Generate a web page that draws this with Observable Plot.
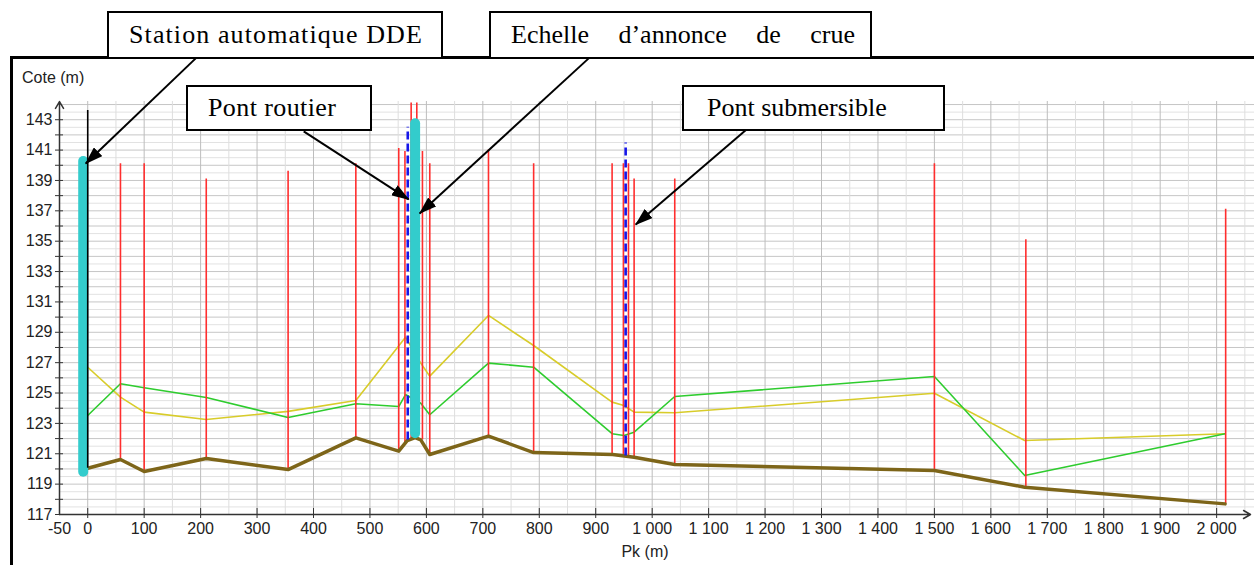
<!DOCTYPE html>
<html>
<head>
<meta charset="utf-8">
<script src="https://cdn.jsdelivr.net/npm/d3@7"></script>
<script src="https://cdn.jsdelivr.net/npm/@observablehq/plot@0.6"></script>
<style>
  body { margin: 0; background: #fff; }
  #wrap { position: relative; width: 1254px; height: 565px; overflow: hidden; background: #fff; }
  #wrap svg { position: absolute; left: 0; top: 0; z-index: 1; }
  .frame { position: absolute; background: #000; z-index: 0; }
  .box { position: absolute; z-index: 2; box-sizing: border-box; border: 2px solid #000; background: #fff;
         font-family: "Liberation Serif", "Times New Roman", serif; font-size: 26px; color: #000;
         display: flex; align-items: center; white-space: nowrap; }
  .lbl { position: absolute; z-index: 2; font-family: "Liberation Sans", Arial, sans-serif; color: #222; white-space: nowrap; }
</style>
</head>
<body>
<div id="wrap"></div>
<script>
// ---- Data ----
// Bed (thalweg) profile
const pkBed  = [0, 58, 100, 210, 355, 475, 551, 566, 580, 590, 606, 710, 790, 930, 968, 1040, 1500, 1660, 2015];
const zBed   = [120.05, 120.62, 119.83, 120.69, 119.96, 122.05, 121.17, 121.87, 122.07, 121.92, 120.95, 122.16, 121.08, 120.95, 120.77, 120.29, 119.9, 118.8, 117.7];
// Green water line
const pkGreen = [0, 58, 100, 210, 355, 475, 551, 563, 590, 606, 710, 790, 929, 950, 968, 1040, 1500, 1660, 2015];
const zGreen  = [123.52, 125.61, 125.35, 124.71, 123.39, 124.29, 124.11, 124.9, 124.33, 123.57, 126.97, 126.7, 122.32, 122.2, 122.42, 124.77, 126.09, 119.57, 122.32];
// Yellow water line
const pkYellow = [0, 58, 100, 210, 355, 475, 563, 590, 606, 710, 790, 929, 950, 968, 1040, 1500, 1660, 2015];
const zYellow  = [126.7, 124.73, 123.74, 123.26, 123.79, 124.51, 128.68, 126.97, 126.11, 130.11, 128.13, 124.4, 124.18, 123.74, 123.7, 124.99, 121.87, 122.32];
// Cross sections (red verticals)
const pkSection     = [58, 100, 210, 355, 475, 551, 562, 573, 583, 593, 606, 710, 790, 929, 949, 958, 968, 1040, 1500, 1662, 2016];
const zSectionTop   = [140.1, 140.1, 139.1, 139.6, 140.1, 141.1, 140.9, 144.1, 144.1, 140.9, 140.1, 141.0, 140.1, 140.1, 140.1, 140.1, 139.1, 139.1, 140.1, 135.1, 137.1];
const zSectionBase  = [120.62, 119.83, 120.69, 119.96, 122.05, 121.17, 121.7, 122.0, 122.05, 121.9, 120.95, 122.16, 121.08, 120.95, 120.85, 120.8, 120.77, 120.29, 119.9, 118.8, 117.7];
// Bridges (blue dashed)
const pkBridge    = [567, 953];
const zBridgeTop  = [142.5, 141.46];
const zBridgeBase = [121.9, 120.85];
// Gauges (cyan bars)
const pkGauge    = [-8, 580];
const zGaugeTop  = [140.25, 142.74];
const zGaugeBase = [119.79, 122.32];
// Black marker at Pk 0
const pkMarker = [0];
const zMarkerTop = [143.6];
const zMarkerBase = [120.05];
// Tick labels
const xTicks = [-50, 0, 100, 200, 300, 400, 500, 600, 700, 800, 900, 1000, 1100, 1200, 1300, 1400, 1500, 1600, 1700, 1800, 1900, 2000];
const yTicks = [117, 119, 121, 123, 125, 127, 129, 131, 133, 135, 137, 139, 141, 143];
// Annotations: text and arrow (from box -> target), in data units
const annText = ["Station automatique DDE", "Echelle d’annonce de crue", "Pont routier", "Pont submersible"];
const annFromPk = [191.3, 887.5, 382.6, 1165.6];
const annFromZ  = [147.04, 147.04, 142.23, 142.3];
const annToPk   = [-3.5, 588.1, 568.6, 970.8];
const annToZ    = [140.12, 136.83, 137.75, 136.1];

// ---- Build tables ----
const bed = pkBed.map((x, i) => ({x, y: zBed[i]}));
const green = pkGreen.map((x, i) => ({x, y: zGreen[i]}));
const yellow = pkYellow.map((x, i) => ({x, y: zYellow[i]}));
const sections = pkSection.map((x, i) => ({x, y1: zSectionBase[i], y2: zSectionTop[i]}));
const bridges = pkBridge.map((x, i) => ({x, y1: zBridgeBase[i], y2: zBridgeTop[i]}));
const gauges = pkGauge.map((x, i) => ({x, y1: zGaugeBase[i], y2: zGaugeTop[i]}));
const markers = pkMarker.map((x, i) => ({x, y1: zMarkerBase[i], y2: zMarkerTop[i]}));
const arrows = annText.map((t, i) => ({x1: annFromPk[i], y1: annFromZ[i], x2: annToPk[i], y2: annToZ[i]}));

const xDomain = [-50, 2060];
const yDomain = [117, 144.2];

const loc = d3.formatLocale({decimal: ",", thousands: "\u00a0", grouping: [3], currency: ["", ""], minus: "-"});
const fmt = loc.format(",d");

const plot = Plot.plot({
  width: 1254,
  height: 565,
  marginLeft: 59,
  marginRight: 4,
  marginTop: 101,
  marginBottom: 51,
  x: {domain: xDomain, label: null},
  y: {domain: yDomain, label: null},
  style: {fontFamily: "'Liberation Sans', Arial, sans-serif", fontSize: "16px", background: "transparent", overflow: "visible"},
  marks: [
    // grid
    Plot.ruleY(d3.range(117.5, 144.2, 1), {x1: xDomain[0], x2: 2070, stroke: "#e2e2e2", strokeWidth: 1}),
    Plot.ruleY(d3.range(118, 144.2, 1), {x1: xDomain[0], x2: 2070, stroke: "#c6c6c6", strokeWidth: 1}),
    Plot.ruleX(d3.range(50, 2060, 100), {y1: yDomain[0], y2: yDomain[1], stroke: "#dedede", strokeWidth: 1}),
    Plot.ruleX(d3.range(0, 2060, 100), {y1: yDomain[0], y2: yDomain[1], stroke: "#bdbdbd", strokeWidth: 1}),
    // water lines
    Plot.line(yellow, {x: "x", y: "y", stroke: "#d8cc2a", strokeWidth: 1.6}),
    Plot.line(green, {x: "x", y: "y", stroke: "#2ecc2e", strokeWidth: 1.6}),
    // cross sections
    Plot.ruleX(sections, {x: "x", y1: "y1", y2: "y2", stroke: "#ff2e2e", strokeWidth: 1.6}),
    // bed
    Plot.line(bed, {x: "x", y: "y", stroke: "#7d6519", strokeWidth: 3.5}),
    // bridges
    Plot.ruleX(bridges, {x: "x", y1: "y1", y2: "y2", stroke: "#1616e8", strokeWidth: 2.6, strokeDasharray: "8,4"}),
    // gauges
    Plot.ruleX(gauges, {x: "x", y1: "y1", y2: "y2", stroke: "#33cccc", strokeWidth: 10, strokeLinecap: "round"}),
    Plot.ruleX(markers, {x: "x", y1: "y1", y2: "y2", stroke: "#000", strokeWidth: 1.6}),
    // axes
    Plot.arrow([{x1: xDomain[0], y1: yDomain[0], x2: xDomain[0], y2: yDomain[1]}, {x1: xDomain[0], y1: yDomain[0], x2: xDomain[1], y2: yDomain[0]}],
      {x1: "x1", y1: "y1", x2: "x2", y2: "y2", stroke: "#333", strokeWidth: 1.5, headLength: 8}),
    Plot.axisY({ticks: d3.range(117, 144, 1), tickSize: 8, dx: 4, tickFormat: () => "", stroke: "#333", label: null}),
    Plot.axisY({ticks: yTicks, tickSize: 0, tickPadding: 7, tickFormat: d => String(d), fill: "#222", fontSize: 16, label: null}),
    Plot.axisX({ticks: xTicks.filter(d => d >= 0), tickSize: 10, dy: -6, tickFormat: () => "", stroke: "#333", label: null}),
    Plot.axisX({ticks: xTicks, tickSize: 0, tickPadding: 8, tickFormat: fmt, fill: "#222", fontSize: 16, label: null}),
    // annotation arrows
    Plot.link(arrows, {x1: "x1", y1: "y1", x2: "x2", y2: "y2", stroke: "#000", strokeWidth: 2})
  ]
});

// filled arrowheads for annotation links
const ns = "http://www.w3.org/2000/svg";
const defs = document.createElementNS(ns, "defs");
const marker = document.createElementNS(ns, "marker");
marker.setAttribute("id", "ahead");
marker.setAttribute("viewBox", "0 0 18 12");
marker.setAttribute("refX", "17");
marker.setAttribute("refY", "6");
marker.setAttribute("markerWidth", "18");
marker.setAttribute("markerHeight", "12");
marker.setAttribute("markerUnits", "userSpaceOnUse");
marker.setAttribute("orient", "auto");
const mp = document.createElementNS(ns, "path");
mp.setAttribute("d", "M0,0L18,6L0,12Z");
mp.setAttribute("fill", "#000");
marker.appendChild(mp);
defs.appendChild(marker);
plot.insertBefore(defs, plot.firstChild);
plot.querySelectorAll('g[aria-label="link"] path').forEach(p => p.setAttribute("marker-end", "url(#ahead)"));

const wrap = document.getElementById("wrap");
// frame
const f1 = document.createElement("div"); f1.className = "frame";
Object.assign(f1.style, {left: "10px", top: "56px", width: "3px", height: "520px"});
const f2 = document.createElement("div"); f2.className = "frame";
Object.assign(f2.style, {left: "10px", top: "56px", width: "1250px", height: "2.5px"});
wrap.appendChild(f1); wrap.appendChild(f2);
wrap.appendChild(plot);

// annotation boxes (layout)
const boxes = [
  {left: 107, top: 11, width: 336, height: 48, pad: "0 0 0 20px", justify: false, ls: "1.1px"},
  {left: 489, top: 11, width: 383, height: 48, pad: "0 15px 0 20px", justify: true, ls: "0px"},
  {left: 186, top: 85, width: 186, height: 46, pad: "0 0 0 20px", justify: false, ls: "0.4px"},
  {left: 682, top: 85, width: 263, height: 46, pad: "0 0 0 23px", justify: false, ls: "0px"}
];
boxes.forEach((b, i) => {
  const d = document.createElement("div");
  d.className = "box";
  Object.assign(d.style, {left: b.left + "px", top: b.top + "px", width: b.width + "px", height: b.height + "px", padding: b.pad, letterSpacing: b.ls});
  if (b.justify) {
    d.style.justifyContent = "space-between";
    annText[i].split(" ").forEach(w => { const s = document.createElement("span"); s.textContent = w; d.appendChild(s); });
  } else {
    d.textContent = annText[i];
  }
  wrap.appendChild(d);
});

// axis titles
const yl = document.createElement("div"); yl.className = "lbl";
Object.assign(yl.style, {left: "22px", top: "70px", fontSize: "16px", lineHeight: "16px"});
yl.textContent = "Cote (m)";
wrap.appendChild(yl);
const xl = document.createElement("div"); xl.className = "lbl";
Object.assign(xl.style, {left: "545px", width: "200px", textAlign: "center", top: "544px", fontSize: "16px", lineHeight: "16px"});
xl.textContent = "Pk (m)";
wrap.appendChild(xl);
</script>
</body>
</html>
